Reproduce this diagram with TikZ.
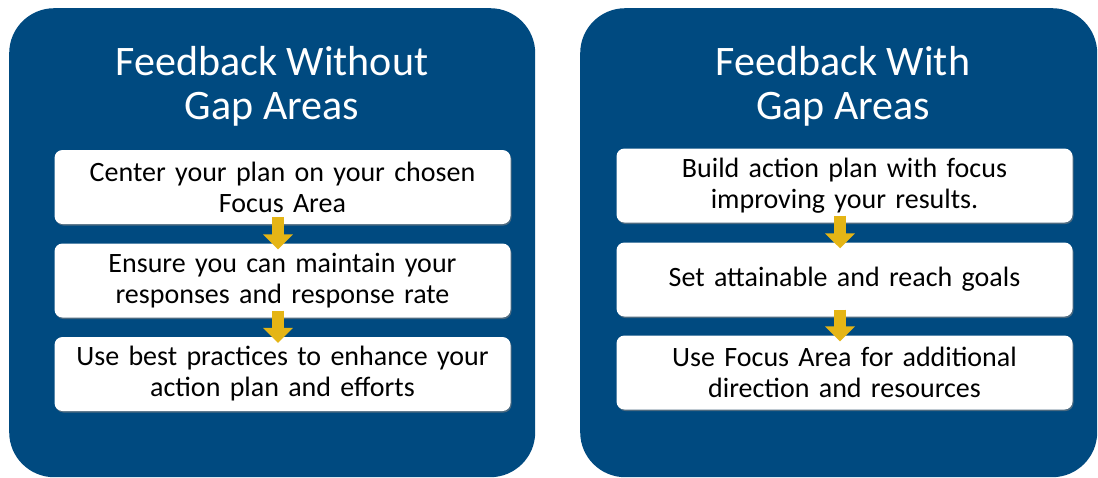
\documentclass[tikz,border=0pt]{standalone}
\usepackage{fontspec}
\setmainfont{Carlito}
\usetikzlibrary{arrows.meta,shadows}
\definecolor{panelblue}{RGB}{0,74,128}
\definecolor{arrowgold}{RGB}{229,181,21}

\begin{document}
\begin{tikzpicture}[x=1pt, y=-1pt,
  panel/.style={fill=panelblue, rounded corners=45pt, inner sep=0pt, anchor=north west},
  title/.style={text=white, align=center, font=\fontsize{42}{44}\selectfont},
  stepbox/.style={fill=white, rounded corners=8pt, align=center, text width=440pt,
    inner xsep=8pt, inner ysep=0pt, minimum height=74pt, font=\fontsize{28}{31}\selectfont,
    drop shadow={shadow xshift=1pt, shadow yshift=-1.5pt, opacity=.6}},
  flow/.style={draw=arrowgold, line width=12pt, -{Triangle[length=15pt, width=29pt]}}]
  \useasboundingbox (0,0) rectangle (1098,477);

  % panels
  \node[panel, minimum width=526pt, minimum height=469pt] (pleft) at (9,8) {};
  \node[panel, minimum width=517pt, minimum height=469pt] (pright) at (580,8) {};
  \node[title] (tleft) at (272,86) {Feedback Without\\Gap Areas};
  \node[title] (tright) at (843,86) {Feedback With\\Gap Areas};

  % left column
  \node[stepbox] (l1) at (282.5,187) {Center your plan on your chosen\\Focus Area};
  \node[stepbox] (l2) at (282.5,280.5) {Ensure you can maintain your\\responses and response rate};
  \node[stepbox] (l3) at (282.5,374) {Use best practices to enhance your\\action plan and efforts};

  % right column
  \node[stepbox] (r1) at (844.5,185.5) {Build action plan with focus\\improving your results.};
  \node[stepbox] (r2) at (844.5,279.5) {Set attainable and reach goals};
  \node[stepbox] (r3) at (844.5,372.5) {Use Focus Area for additional\\direction and resources};

  \draw[flow] ([xshift=-4.5pt, yshift=7pt]l1.south) -- ([xshift=-4.5pt, yshift=-6pt]l2.north);
  \draw[flow] ([xshift=-4.5pt, yshift=7pt]l2.south) -- ([xshift=-4.5pt, yshift=-6pt]l3.north);
  \draw[flow] ([xshift=-4.5pt, yshift=7pt]r1.south) -- ([xshift=-4.5pt, yshift=-6pt]r2.north);
  \draw[flow] ([xshift=-4.5pt, yshift=7pt]r2.south) -- ([xshift=-4.5pt, yshift=-6pt]r3.north);
\end{tikzpicture}
\end{document}
